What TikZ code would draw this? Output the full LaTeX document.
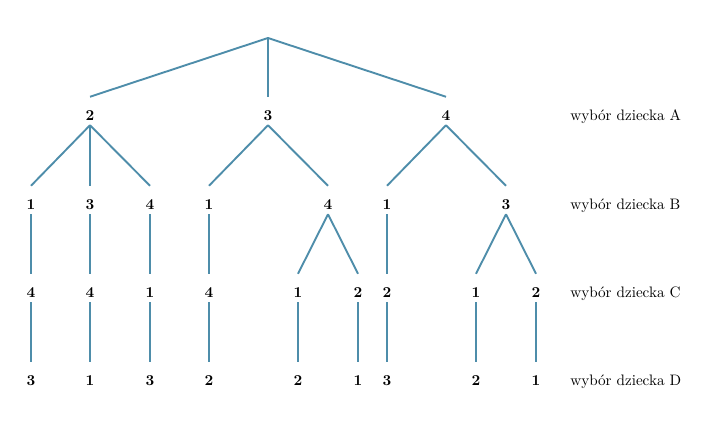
\documentclass[tikz,border=0pt]{standalone}
\definecolor{treeblue}{RGB}{78,141,170}
\begin{document}
\begin{tikzpicture}[x=0.66pt,y=-0.66pt,
    branch/.style={draw=treeblue,line width=1.25pt},
    choice/.style={anchor=base,inner sep=0pt,text height=15.8pt,text depth=2.6pt,font=\bfseries},
    level/.style={anchor=base west,inner sep=0pt}]
  \useasboundingbox (0,0) rectangle (727,433); % page frame
  \coordinate (root) at (268,38); % start of the tree
  % first choice: child A
  \node[choice] (a2) at (90,121) {2};
  \node[choice] (a3) at (268,121) {3};
  \node[choice] (a4) at (446,121) {4};
  % second choice: child B
  \node[choice] (b21) at (31,210) {1};
  \node[choice] (b23) at (90,210) {3};
  \node[choice] (b24) at (150,210) {4};
  \node[choice] (b31) at (209,210) {1};
  \node[choice] (b34) at (328,210) {4};
  \node[choice] (b41) at (387,210) {1};
  \node[choice] (b43) at (506,210) {3};
  % third choice: child C
  \node[choice] (c214) at (31,298) {4};
  \node[choice] (c234) at (90,298) {4};
  \node[choice] (c241) at (150,298) {1};
  \node[choice] (c314) at (209,298) {4};
  \node[choice] (c341) at (298,298) {1};
  \node[choice] (c342) at (358,298) {2};
  \node[choice] (c412) at (387,298) {2};
  \node[choice] (c431) at (476,298) {1};
  \node[choice] (c432) at (536,298) {2};
  % last choice: child D
  \node[choice] (d2143) at (31,386) {3};
  \node[choice] (d2341) at (90,386) {1};
  \node[choice] (d2413) at (150,386) {3};
  \node[choice] (d3142) at (209,386) {2};
  \node[choice] (d3412) at (298,386) {2};
  \node[choice] (d3421) at (358,386) {1};
  \node[choice] (d4123) at (387,386) {3};
  \node[choice] (d4312) at (476,386) {2};
  \node[choice] (d4321) at (536,386) {1};
  % row names
  \node[level] (na) at (570,121) {wybór dziecka A};
  \node[level] (nb) at (570,210) {wybór dziecka B};
  \node[level] (nc) at (570,298) {wybór dziecka C};
  \node[level] (nd) at (570,386) {wybór dziecka D};
  % branches
  \draw[branch] (root) -- (a2.north);
  \draw[branch] (root) -- (a3.north);
  \draw[branch] (root) -- (a4.north);
  \draw[branch] (a2.south) -- (b21.north);
  \draw[branch] (a2.south) -- (b23.north);
  \draw[branch] (a2.south) -- (b24.north);
  \draw[branch] (a3.south) -- (b31.north);
  \draw[branch] (a3.south) -- (b34.north);
  \draw[branch] (a4.south) -- (b41.north);
  \draw[branch] (a4.south) -- (b43.north);
  \draw[branch] (b21.south) -- (c214.north);
  \draw[branch] (b23.south) -- (c234.north);
  \draw[branch] (b24.south) -- (c241.north);
  \draw[branch] (b31.south) -- (c314.north);
  \draw[branch] (b34.south) -- (c341.north);
  \draw[branch] (b34.south) -- (c342.north);
  \draw[branch] (b41.south) -- (c412.north);
  \draw[branch] (b43.south) -- (c431.north);
  \draw[branch] (b43.south) -- (c432.north);
  \draw[branch] (c214.south) -- (d2143.north);
  \draw[branch] (c234.south) -- (d2341.north);
  \draw[branch] (c241.south) -- (d2413.north);
  \draw[branch] (c314.south) -- (d3142.north);
  \draw[branch] (c341.south) -- (d3412.north);
  \draw[branch] (c342.south) -- (d3421.north);
  \draw[branch] (c412.south) -- (d4123.north);
  \draw[branch] (c431.south) -- (d4312.north);
  \draw[branch] (c432.south) -- (d4321.north);
\end{tikzpicture}
\end{document}
